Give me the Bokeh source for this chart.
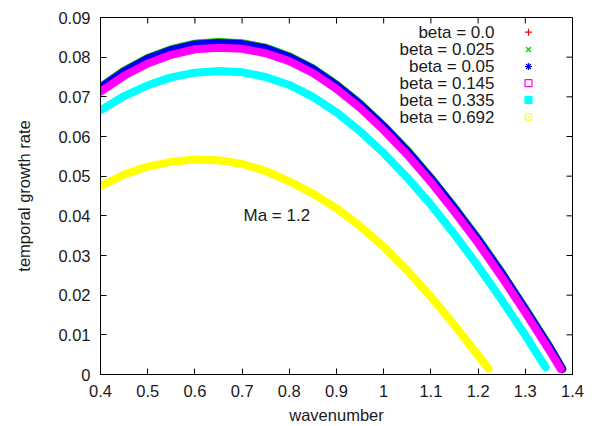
from bokeh.plotting import figure
from bokeh.models import Range1d, FixedTicker, Label
from bokeh.embed import file_html
from bokeh.resources import INLINE

# ---- data: temporal growth rate vs wavenumber, Ma = 1.2 ----
k_b000 = [0.40, 0.45, 0.50, 0.55, 0.60, 0.65, 0.70, 0.75, 0.80, 0.85, 0.90,
          0.95, 1.00, 1.05, 1.10, 1.15, 1.20, 1.25, 1.30, 1.35, 1.378]
g_b000 = [0.0724, 0.0765, 0.0797, 0.0819, 0.0833, 0.0837, 0.0834, 0.0823, 0.0801,
          0.0771, 0.0730, 0.0682, 0.0626, 0.0564, 0.0495, 0.0420, 0.0341, 0.0256,
          0.0165, 0.0072, 0.0015]

k_b025 = [0.40, 0.45, 0.50, 0.55, 0.60, 0.65, 0.70, 0.75, 0.80, 0.85, 0.90,
          0.95, 1.00, 1.05, 1.10, 1.15, 1.20, 1.25, 1.30, 1.35, 1.378]
g_b025 = [0.0725, 0.0766, 0.0798, 0.0820, 0.0834, 0.0838, 0.0835, 0.0824, 0.0802,
          0.0772, 0.0731, 0.0683, 0.0627, 0.0565, 0.0496, 0.0421, 0.0342, 0.0257,
          0.0166, 0.0073, 0.0016]

k_b050 = [0.40, 0.45, 0.50, 0.55, 0.60, 0.65, 0.70, 0.75, 0.80, 0.85, 0.90,
          0.95, 1.00, 1.05, 1.10, 1.15, 1.20, 1.25, 1.30, 1.35, 1.378]
g_b050 = [0.0723, 0.0764, 0.0796, 0.0818, 0.0832, 0.0836, 0.0833, 0.0822, 0.0800,
          0.0770, 0.0729, 0.0681, 0.0625, 0.0563, 0.0494, 0.0419, 0.0340, 0.0255,
          0.0164, 0.0071, 0.0014]

k_b145 = [0.40, 0.45, 0.50, 0.55, 0.60, 0.65, 0.70, 0.75, 0.80, 0.85, 0.90,
          0.95, 1.00, 1.05, 1.10, 1.15, 1.20, 1.25, 1.30, 1.35, 1.375]
g_b145 = [0.0713, 0.0753, 0.0784, 0.0806, 0.0820, 0.0824, 0.0821, 0.0810, 0.0790,
          0.0760, 0.0720, 0.0672, 0.0616, 0.0554, 0.0485, 0.0410, 0.0331, 0.0246,
          0.0156, 0.0063, 0.0014]

k_b335 = [0.40, 0.45, 0.50, 0.55, 0.60, 0.65, 0.70, 0.75, 0.80, 0.85, 0.90,
          0.95, 1.00, 1.05, 1.10, 1.15, 1.20, 1.25, 1.30, 1.343]
g_b335 = [0.0666, 0.0702, 0.0729, 0.0749, 0.0761, 0.0765, 0.0762, 0.0750, 0.0730,
          0.0700, 0.0661, 0.0613, 0.0558, 0.0496, 0.0428, 0.0353, 0.0273, 0.0188,
          0.0099, 0.0018]

k_b692 = [0.40, 0.45, 0.50, 0.55, 0.60, 0.65, 0.70, 0.75, 0.80, 0.85, 0.90,
          0.95, 1.00, 1.05, 1.10, 1.15, 1.20, 1.222]
g_b692 = [0.0475, 0.0504, 0.0524, 0.0536, 0.0542, 0.0540, 0.0531, 0.0513, 0.0487,
          0.0456, 0.0419, 0.0374, 0.0322, 0.0262, 0.0196, 0.0124, 0.0048, 0.0015]

series_labels = ["beta = 0.0", "beta = 0.025", "beta = 0.05",
                 "beta = 0.145", "beta = 0.335", "beta = 0.692"]

x_ticks = [0.4, 0.5, 0.6, 0.7, 0.8, 0.9, 1.0, 1.1, 1.2, 1.3, 1.4]
x_tick_labels = ["0.4", "0.5", "0.6", "0.7", "0.8", "0.9", "1", "1.1", "1.2", "1.3", "1.4"]
y_ticks = [0.0, 0.01, 0.02, 0.03, 0.04, 0.05, 0.06, 0.07, 0.08, 0.09]
y_tick_labels = ["0", "0.01", "0.02", "0.03", "0.04", "0.05", "0.06", "0.07", "0.08", "0.09"]

annotation_text = "Ma = 1.2"

# ---- styling ----
FONT = "Liberation Sans"
X0, X1 = 0.4, 1.4
Y0, Y1 = 0.0, 0.09
FRAME_L, FRAME_R, FRAME_T, FRAME_B = 100, 24, 17, 52
W, H = 596, 426
FRAME_W = W - FRAME_L - FRAME_R
FRAME_H = H - FRAME_T - FRAME_B
TICK_PX = 6


def px_to_x(px):
    return X0 + (px - FRAME_L) / FRAME_W * (X1 - X0)


def py_to_y(py):
    return Y0 + (FRAME_T + FRAME_H - py) / FRAME_H * (Y1 - Y0)


p = figure(width=W, height=H, output_backend="svg", toolbar_location=None,
           x_range=Range1d(X0, X1), y_range=Range1d(Y0, Y1),
           min_border_left=FRAME_L, min_border_right=FRAME_R,
           min_border_top=FRAME_T, min_border_bottom=FRAME_B,
           x_axis_label="wavenumber", y_axis_label="temporal growth rate")
p.xgrid.visible = False
p.ygrid.visible = False
p.outline_line_color = "black"
p.outline_line_width = 1
p.background_fill_color = "white"
p.border_fill_color = "white"

xo = {v: s for v, s in zip(x_ticks, x_tick_labels)}
yo = {v: s for v, s in zip(y_ticks, y_tick_labels)}

for ax in p.xaxis:
    ax.ticker = FixedTicker(ticks=x_ticks)
    ax.major_label_overrides = xo
for ax in p.yaxis:
    ax.ticker = FixedTicker(ticks=y_ticks)
    ax.major_label_overrides = yo

for ax in list(p.xaxis) + list(p.yaxis):
    ax.major_tick_in = TICK_PX
    ax.major_tick_out = 0
    ax.minor_tick_in = 0
    ax.minor_tick_out = 0
    ax.axis_line_color = "black"
    ax.major_tick_line_color = "black"
    ax.major_label_text_font = FONT
    ax.major_label_text_font_size = "16.5px"
    ax.major_label_text_color = "#1a1a1a"
    ax.axis_label_text_font = FONT
    ax.axis_label_text_font_size = "16.5px"
    ax.axis_label_text_font_style = "normal"
    ax.axis_label_text_color = "#1a1a1a"
    ax.major_label_standoff = 10
p.xaxis.axis_label_standoff = 6
p.yaxis.axis_label_standoff = 22

# mirrored inward ticks on the top and right edges of the frame
dy_tick = TICK_PX / FRAME_H * (Y1 - Y0)
dx_tick = TICK_PX / FRAME_W * (X1 - X0)
p.segment(x0=x_ticks, y0=[Y1] * len(x_ticks), x1=x_ticks, y1=[Y1 - dy_tick] * len(x_ticks),
          line_color="black", line_width=1)
p.segment(x0=[X1] * len(y_ticks), y0=y_ticks, x1=[X1 - dx_tick] * len(y_ticks), y1=y_ticks,
          line_color="black", line_width=1)

# ---- curves (drawn in series order, later ones on top) ----
curves = [
    (k_b000, g_b000, "#ff0000"),
    (k_b025, g_b025, "#00cc00"),
    (k_b050, g_b050, "#0000ee"),
    (k_b145, g_b145, "#ff00ff"),
    (k_b335, g_b335, "#00ffff"),
    (k_b692, g_b692, "#ffff00"),
]
for ks, gs, col in curves:
    p.line(ks, gs, line_color=col, line_width=8, line_join="round", line_cap="round")

# ---- key (label on the left, marker on the right) ----
key_text_px = 494
key_mark_px = 528
key_rows_py = [31.7, 49.0, 66.0, 82.7, 99.5, 116.5]
markers = [
    dict(marker="cross", line_color="#ff0000", fill_color=None),
    dict(marker="x", line_color="#00cc00", fill_color=None),
    dict(marker="asterisk", line_color="#0000ee", fill_color=None),
    dict(marker="square", line_color="#ff00ff", fill_color=None),
    dict(marker="square", line_color="#00ffff", fill_color="#00ffff"),
    dict(marker="circle_dot", line_color="#ffff00", fill_color=None),
]
for lab, py, mk in zip(series_labels, key_rows_py, markers):
    p.add_layout(Label(x=px_to_x(key_text_px), y=py_to_y(py), text=lab,
                       text_align="right", text_baseline="middle",
                       text_font=FONT, text_font_size="17px", text_color="#1a1a1a"))
    p.scatter([px_to_x(key_mark_px)], [py_to_y(py)], size=7, line_width=1.2, **mk)

p.add_layout(Label(x=px_to_x(243), y=py_to_y(215), text=annotation_text,
                   text_align="left", text_baseline="middle",
                   text_font=FONT, text_font_size="17px", text_color="#1a1a1a"))

open("out.html", "w").write(file_html(p, INLINE))
